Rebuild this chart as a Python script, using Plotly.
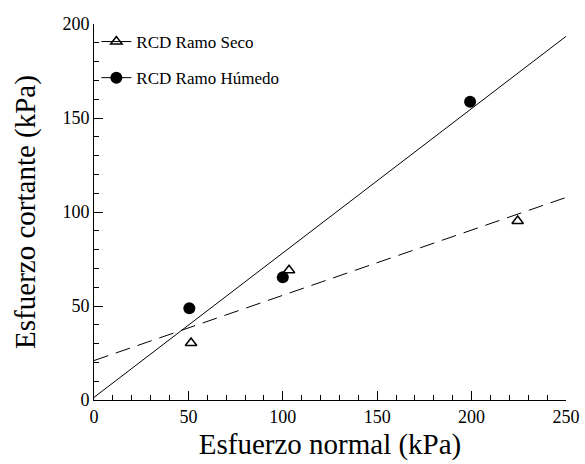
import numpy as np
import plotly.graph_objects as go

# Direct shear results: normal stress vs. shear stress (kPa)
seco_normal = [51.4, 103.3, 224.4]
seco_cortante = [30.3, 69.0, 95.2]
humedo_normal = [50.5, 100.0, 199.2]
humedo_cortante = [48.8, 65.3, 158.7]

x_range = [0, 250]
y_range = [0, 200]

FONT = "Liberation Serif"

fig = go.Figure()

# Least-squares failure envelopes across the full normal-stress range
def envelope(x, y):
    slope, intercept = np.polyfit(x, y, 1)
    xs = np.array(x_range, dtype=float)
    return xs, intercept + slope * xs

xs, ys = envelope(seco_normal, seco_cortante)
fig.add_trace(go.Scatter(x=xs, y=ys, mode="lines", showlegend=False,
                         line=dict(color="black", width=1, dash="15px,8px")))
xh, yh = envelope(humedo_normal, humedo_cortante)
fig.add_trace(go.Scatter(x=xh, y=yh, mode="lines", showlegend=False,
                         line=dict(color="black", width=1)))

fig.add_trace(go.Scatter(
    x=seco_normal, y=seco_cortante, mode="markers", name="RCD Ramo Seco",
    legendgroup="seco",
    marker=dict(symbol="triangle-up-open", size=10, color="black",
                line=dict(width=1.5, color="black")),
    showlegend=False))
fig.add_trace(go.Scatter(
    x=humedo_normal, y=humedo_cortante, mode="markers", name="RCD Ramo Húmedo",
    legendgroup="humedo",
    marker=dict(symbol="circle", size=12, color="black"),
    showlegend=False))

# Legend entries with the line-through-marker key
fig.add_trace(go.Scatter(
    x=[None], y=[None], mode="lines+markers", name="RCD Ramo Seco",
    legendgroup="seco",
    line=dict(color="black", width=1),
    marker=dict(symbol="triangle-up-open", size=10, color="black",
                line=dict(width=1.5, color="black"))))
fig.add_trace(go.Scatter(
    x=[None], y=[None], mode="lines+markers", name="RCD Ramo Húmedo",
    legendgroup="humedo",
    line=dict(color="black", width=1),
    marker=dict(symbol="circle", size=12, color="black")))

axis_common = dict(
    showline=True, linecolor="black", linewidth=1,
    showgrid=False, zeroline=False, automargin=False,
    ticks="inside", ticklen=9, tickcolor="black", tickwidth=1,
    tickfont=dict(family=FONT, size=18, color="black"),
    minor=dict(ticks="inside", ticklen=5, dtick=10, tick0=0,
               tickcolor="black", tickwidth=1, showgrid=False),
    dtick=50, tick0=0,
)

fig.update_layout(
    template="none",
    width=585, height=464,
    margin=dict(l=94, r=19, t=24, b=64),
    plot_bgcolor="white", paper_bgcolor="white",
    font=dict(family=FONT, color="black"),
    xaxis=dict(range=x_range, **axis_common,
               title=dict(text="Esfuerzo normal (kPa)",
                          font=dict(family=FONT, size=29), standoff=8)),
    yaxis=dict(range=y_range, **axis_common,
               title=dict(text="Esfuerzo cortante (kPa)",
                          font=dict(family=FONT, size=29), standoff=18)),
    legend=dict(x=0.005, y=1.0, xanchor="left", yanchor="top",
                bgcolor="rgba(0,0,0,0)", font=dict(family=FONT, size=17),
                tracegroupgap=11, traceorder="grouped", itemwidth=30),
)

fig.write_html("out.html")
